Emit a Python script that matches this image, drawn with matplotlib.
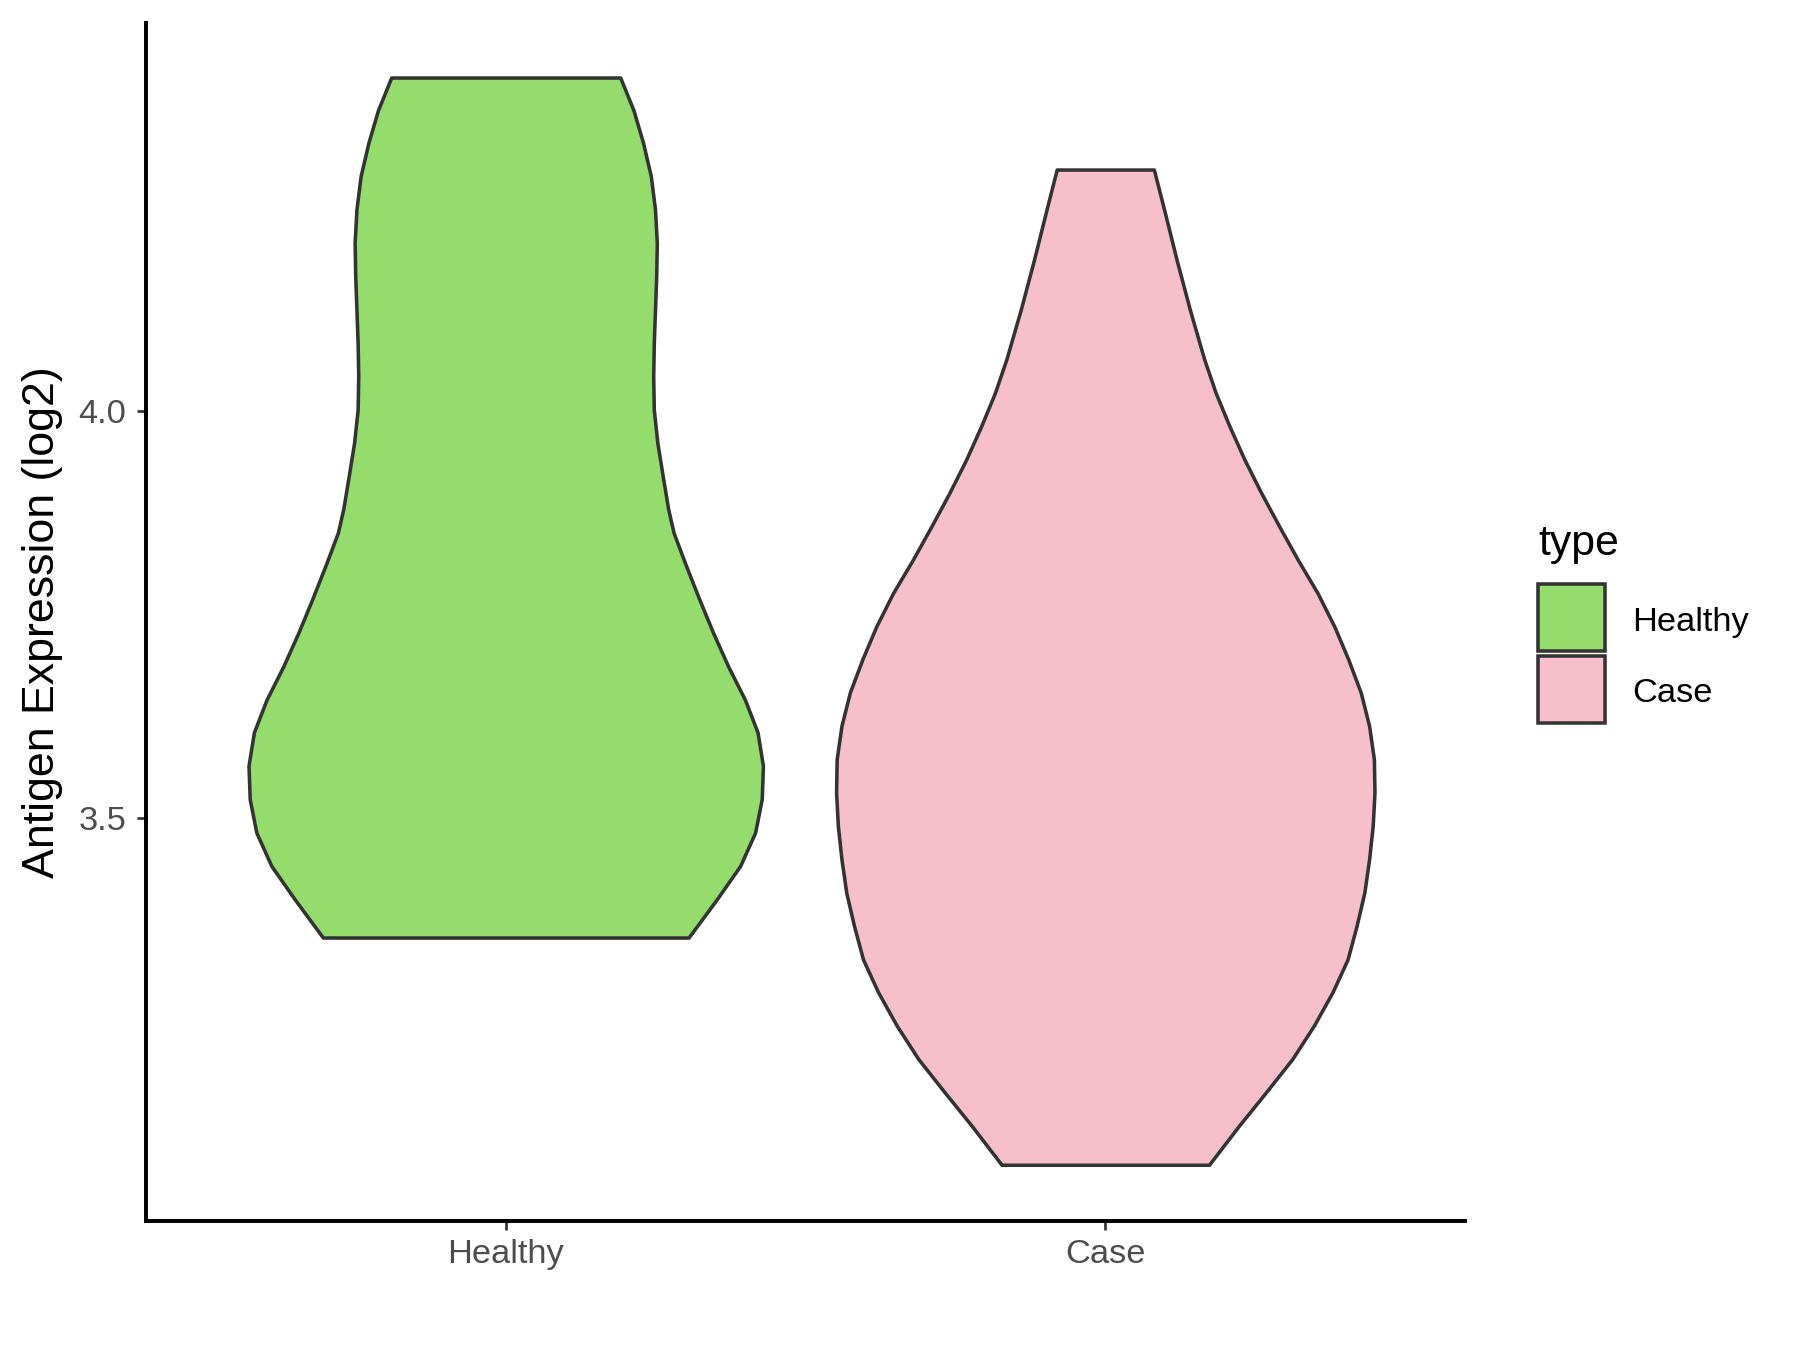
import numpy as np
import matplotlib.pyplot as plt
from matplotlib.patches import Rectangle

plt.rcParams['font.family'] = ['Liberation Sans', 'DejaVu Sans']

# groups on the discrete x axis
groups = ["Healthy", "Case"]
fills = ["#94DC6B", "#F7BFCB"]

# violin outlines: expression level and half-width (x units)
healthy_y = [4.409, 4.369, 4.329, 4.288, 4.247, 4.206, 4.165, 4.124, 4.083,
             4.042, 4.001, 3.960, 3.919, 3.879, 3.850, 3.809, 3.768, 3.727,
             3.686, 3.645, 3.605, 3.564, 3.523, 3.482, 3.441, 3.400, 3.353]
healthy_half = [0.191, 0.213, 0.229, 0.242, 0.249, 0.252, 0.251, 0.249, 0.247,
                0.246, 0.247, 0.253, 0.262, 0.271, 0.280, 0.301, 0.323, 0.346,
                0.371, 0.399, 0.420, 0.429, 0.427, 0.416, 0.391, 0.352, 0.305]

case_y = [4.296, 4.247, 4.185, 4.124, 4.063, 4.022, 3.981, 3.940, 3.899,
          3.858, 3.817, 3.776, 3.735, 3.695, 3.654, 3.613, 3.572, 3.531,
          3.490, 3.449, 3.408, 3.367, 3.326, 3.286, 3.245, 3.204, 3.163,
          3.122, 3.074]
case_half = [0.081, 0.098, 0.119, 0.141, 0.165, 0.184, 0.207, 0.232, 0.260,
             0.290, 0.321, 0.354, 0.382, 0.405, 0.426, 0.440, 0.448, 0.449,
             0.446, 0.440, 0.432, 0.419, 0.404, 0.379, 0.348, 0.312, 0.268,
             0.223, 0.173]

profiles = [(healthy_y, healthy_half), (case_y, case_half)]

fig = plt.figure(figsize=(12, 9), dpi=150)
ax = fig.add_axes([0.0811, 0.0956, 0.7328, 0.8874])

edge = "#333333"
for i, (ys, hw) in enumerate(profiles):
    pos = i + 1
    ys = np.array(ys)
    hw = np.array(hw)
    ax.fill_betweenx(ys, pos - hw, pos + hw, facecolor=fills[i],
                     edgecolor=edge, linewidth=1.7, zorder=2)

ax.set_xlim(0.4, 2.6)
ax.set_ylim(3.005, 4.476)

ax.set_xticks([1, 2])
ax.set_xticklabels(groups)
ax.set_yticks([3.5, 4.0])
ax.set_yticklabels(["3.5", "4.0"])

for side in ["top", "right"]:
    ax.spines[side].set_visible(False)
for side in ["left", "bottom"]:
    ax.spines[side].set_linewidth(1.9)
    ax.spines[side].set_color("black")

ax.tick_params(axis="both", length=4.3, width=1.3, color=edge,
               labelcolor="#4D4D4D", labelsize=16.5)
ax.tick_params(axis="y", pad=5)
ax.tick_params(axis="x", pad=4.5)

ax.set_ylabel("Antigen Expression (log2)", fontsize=21.5, color="black")
ax.yaxis.set_label_coords(-0.063, 0.5)

# legend drawn by hand, ggplot style
fig.text(1538 / 1800, 1 - 555 / 1350, "type", fontsize=20.5,
         ha="left", va="baseline")
key_tops = [584, 656]
label_base = [630.5, 702]
for i, name in enumerate(groups):
    fig.patches.append(Rectangle((1538 / 1800, 1 - (key_tops[i] + 67) / 1350),
                                 67 / 1800, 67 / 1350, transform=fig.transFigure,
                                 facecolor=fills[i], edgecolor=edge,
                                 linewidth=1.7))
    fig.text(1632 / 1800, 1 - label_base[i] / 1350, name, fontsize=16.5,
             ha="left", va="baseline")

fig.savefig("out.png", dpi=150, facecolor="white")
